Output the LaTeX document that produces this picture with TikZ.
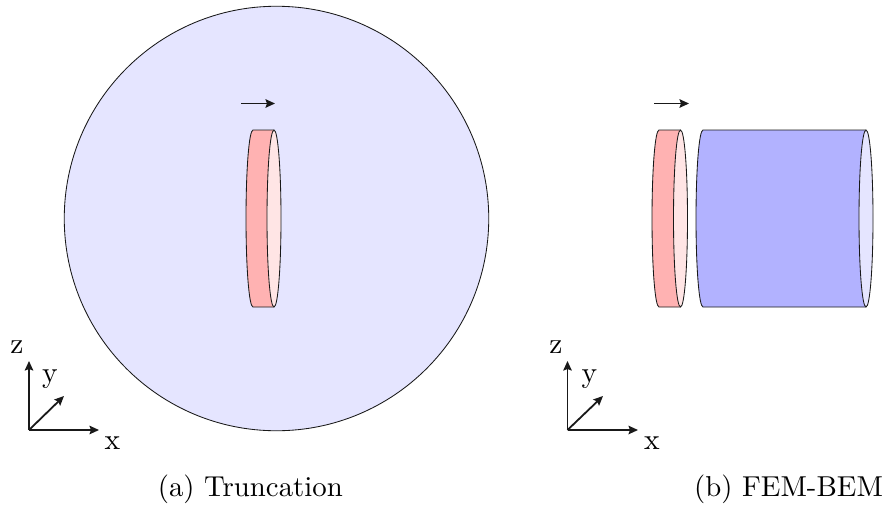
\documentclass[tikz,border=0pt]{standalone}
\usetikzlibrary{arrows.meta}
\definecolor{sphereblue}{RGB}{229,229,255}
\definecolor{diskred}{RGB}{255,178,178}
\definecolor{diskpale}{RGB}{255,229,229}
\definecolor{cylblue}{RGB}{178,178,255}
\tikzset{
  outline/.style={draw=black!90,line width=0.85pt,line join=round},
  axis/.style={line width=1.8pt,black!90,-{Stealth[length=9.5pt,width=8.5pt,inset=1.5pt]}},
  field/.style={line width=1.8pt,black!90,-{Stealth[length=9.5pt,width=8.5pt,inset=1.5pt]}},
  lab/.style={inner sep=0pt,transform shape,scale=2.95,font=\fontsize{10}{12}\selectfont},
  captext/.style={inner sep=0pt,anchor=base,transform shape,scale=2.88,font=\fontsize{10}{12}\selectfont}
}
% side wall of a disk or cylinder: #1 left centre x, #2 right centre x, #3 fill, #4 end-face fill
\newcommand{\Drum}[4]{%
  \draw[outline,fill=#3] (#1,130)
     .. controls ({#1-3.87},130) and ({#1-7},169.1) .. ({#1-7},218.5)
     .. controls ({#1-7},267.9) and ({#1-3.87},307) .. (#1,307)
     -- (#2,307) -- (#2,130) -- cycle;
  \draw[outline,fill=#4] (#2,130)
     .. controls ({#2+3.87},130) and ({#2+7},169.1) .. ({#2+7},218.5)
     .. controls ({#2+7},267.9) and ({#2+3.87},307) .. (#2,307)
     .. controls ({#2-3.87},307) and ({#2-7},267.9) .. ({#2-7},218.5)
     .. controls ({#2-7},169.1) and ({#2-3.87},130) .. (#2,130) -- cycle;
}
\begin{document}
\begin{tikzpicture}[x=1pt,y=-1pt]
\useasboundingbox (0,0) rectangle (883,504);
% truncation
\node[circle,minimum size=424.5pt,inner sep=0pt,outline,fill=sphereblue] (sphere) at (276.5,218.5) {};
\Drum{253}{274}{diskred}{diskpale}
\coordinate (fa0) at (241,103.5); \coordinate (fa1) at (275,103.5);
\draw[field] (fa0) -- (fa1);
% FEM-BEM
\Drum{659}{680.5}{diskred}{diskpale}
\Drum{703}{866}{cylblue}{sphereblue}
\coordinate (fb0) at (654,103.5); \coordinate (fb1) at (689,103.5);
\draw[field] (fb0) -- (fb1);
% axes a
\coordinate (oa) at (29,430);
\coordinate (za) at (29,361); \coordinate (xa) at (99,430); \coordinate (ya) at (64,396);
\draw[axis] (oa) -- (za); \draw[axis] (oa) -- (xa); \draw[axis] (oa) -- (ya);
\node[lab] (lza) at (17,347) {z};
\node[lab] (lya) at (50,379) {y};
\node[lab] (lxa) at (112.5,443.5) {x};
% axes b
\coordinate (ob) at (567.5,430);
\coordinate (zb) at (567.5,361); \coordinate (xb) at (638,430); \coordinate (yb) at (603,396);
\draw[axis] (ob) -- (zb); \draw[axis] (ob) -- (xb); \draw[axis] (ob) -- (yb);
\node[lab] (lzb) at (556,347) {z};
\node[lab] (lyb) at (589.5,379) {y};
\node[lab] (lxb) at (652,443.5) {x};
% captions
\node[captext] (capa) at (250.3,496) {(a) Truncation};
\node[captext] (capb) at (788.5,496) {(b) FEM-BEM};
\end{tikzpicture}
\end{document}
